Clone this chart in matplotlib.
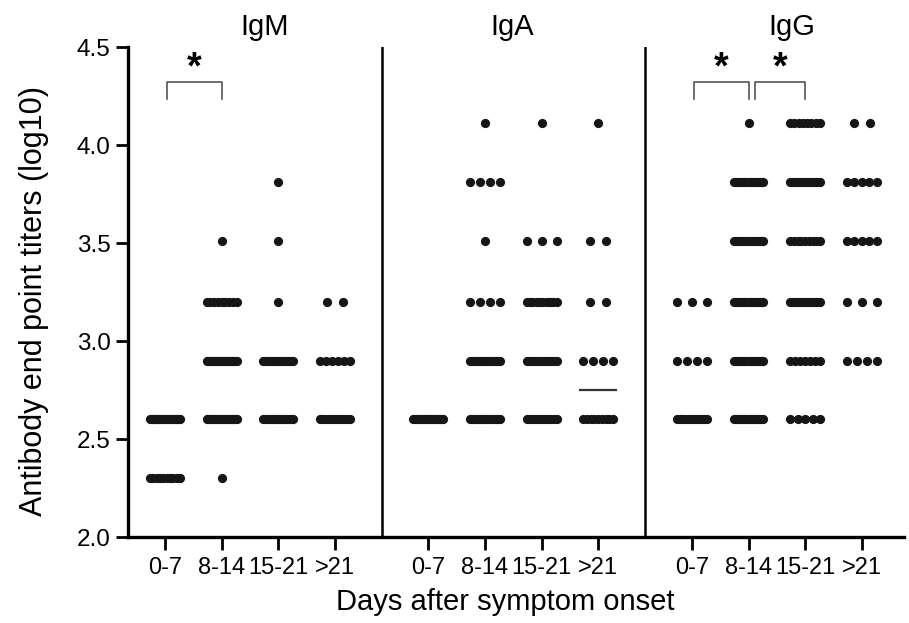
import numpy as np
import matplotlib
matplotlib.use('Agg')
import matplotlib.pyplot as plt

plt.rcParams['font.family'] = ['Liberation Sans', 'DejaVu Sans']

# Daten
isotypes = ['IgM', 'IgA', 'IgG']
day_groups = ['0-7', '8-14', '15-21', '>21']
# log10 of end point titers 1:200 ... 1:12800
titer_levels = [2.30, 2.60, 2.90, 3.20, 3.51, 3.81, 4.11]

# number of samples at each titer level, one row per day group
igm_counts = [[10, 20, 0, 0, 0, 0, 0],
              [1, 20, 20, 9, 1, 0, 0],
              [0, 15, 15, 1, 1, 1, 0],
              [0, 12, 6, 2, 0, 0, 0]]
iga_counts = [[0, 20, 0, 0, 0, 0, 0],
              [0, 15, 15, 4, 1, 4, 1],
              [0, 12, 12, 10, 3, 0, 1],
              [0, 9, 4, 2, 2, 0, 1]]
igg_counts = [[0, 12, 4, 3, 0, 0, 0],
              [0, 15, 15, 15, 12, 15, 1],
              [0, 5, 7, 12, 9, 12, 8],
              [0, 0, 4, 3, 5, 5, 2]]
all_counts = [igm_counts, iga_counts, igg_counts]

# significant comparisons: (panel, group a, group b)
comparisons = [(0, 0, 1), (2, 0, 1), (2, 1, 2)]

panel_step = 4.66
max_span = 0.53
max_step = 0.283
dot_color = '#161616'


def spread(n):
    if n == 1:
        return np.zeros(1)
    step = min(max_step, max_span / (n - 1))
    return (np.arange(n) - (n - 1) / 2) * step


fig = plt.figure(figsize=(9.09, 6.23), dpi=100)
ax = fig.add_axes([128 / 909, 1 - 537 / 623, (904 - 128) / 909, (537 - 47) / 623])

tick_pos = []
for p, counts in enumerate(all_counts):
    for g, row in enumerate(counts):
        xc = p * panel_step + g
        tick_pos.append(xc)
        xs, ys = [], []
        for level, n in zip(titer_levels, row):
            if n == 0:
                continue
            xs.extend(xc + spread(n))
            ys.extend([level] * n)
        ax.scatter(xs, ys, s=44, color=dot_color, linewidths=0, zorder=3)
        med = np.median(np.repeat(titer_levels, row))
        ax.hlines(med, xc - 0.33, xc + 0.33, color='#333333', lw=1.6, zorder=2)

# Trennlinien zwischen den Panels
for p in range(2):
    ax.axvline(p * panel_step + 3.83, color='black', lw=1.8)

# Titel
title_off = [1.77, 1.48, 1.77]
for p, name in enumerate(isotypes):
    ax.text(p * panel_step + title_off[p], 4.561, name, ha='center', va='baseline',
            fontsize=21, clip_on=False)

# Signifikanz-Klammern
for p, a, b in comparisons:
    touching = any(q == p and bb == a for q, aa, bb in comparisons)
    x0 = p * panel_step + a + (0.12 if touching else 0.03)
    x1 = p * panel_step + b
    ax.plot([x0, x0, x1, x1], [4.235, 4.32, 4.32, 4.235], color='#555555', lw=1.2,
            clip_on=False, zorder=2)
    ax.text((x0 + x1) / 2, 4.39, '*', ha='center', va='center', fontsize=27,
            fontweight='bold', clip_on=False)

ax.set_xlim(-0.654, 13.07)
ax.set_ylim(2.0, 4.5)
ax.set_yticks(np.arange(2.0, 4.51, 0.5))
ax.set_yticklabels(['%.1f' % v for v in np.arange(2.0, 4.51, 0.5)])
ax.set_xticks(tick_pos)
ax.set_xticklabels(day_groups * 3)

for s in ['top', 'right']:
    ax.spines[s].set_visible(False)
for s in ['left', 'bottom']:
    ax.spines[s].set_linewidth(2.4)

ax.tick_params(axis='y', length=9, width=2, labelsize=17.5, pad=3.6)
ax.tick_params(axis='x', length=9, width=2, labelsize=17, pad=5.5)

ax.set_ylabel('Antibody end point titers (log10)', fontsize=22)
ax.yaxis.set_label_coords(-0.102, 0.482)
ax.set_xlabel('Days after symptom onset', fontsize=21)
ax.xaxis.set_label_coords(0.486, -0.104)

fig.savefig('out.png', dpi=100)
